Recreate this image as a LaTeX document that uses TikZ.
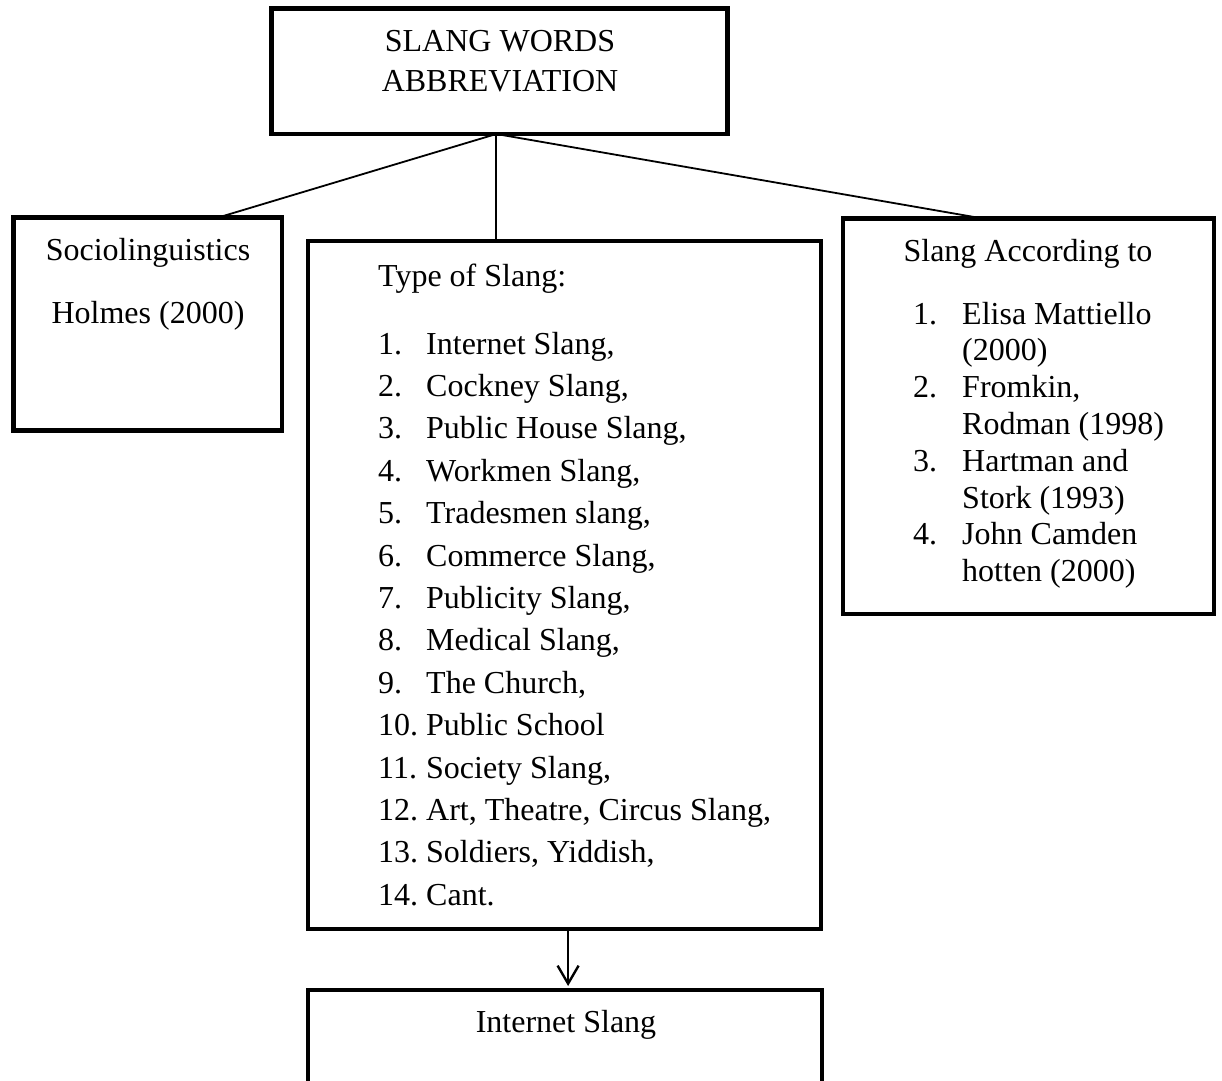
\documentclass[tikz,border=0pt]{standalone}
\usepackage{fontspec}
\setmainfont{Liberation Serif}
\usetikzlibrary{arrows.meta,calc}
\begin{document}
\begin{tikzpicture}[x=1pt,y=-1pt,
  box/.style={draw,line width=4.8pt,inner sep=0pt,outer sep=0pt,anchor=north west},
  conn/.style={line width=1.8pt},
  txt/.style={inner sep=0pt,font=\fontsize{32}{40}\selectfont},
  lbl/.style={txt,anchor=base west},
  ctr/.style={txt,anchor=base}]
\clip (0,0) rectangle (1222,1080);
\fill[white] (0,0) rectangle (1222,1080);
% boxes
\node[box,minimum width=456pt,minimum height=125.5pt] (top) at (271.5,8.5) {};
\node[box,minimum width=268.5pt,minimum height=212.5pt] (left) at (13.5,217.7) {};
\node[box,minimum width=513pt,minimum height=688pt] (mid) at (308,241) {};
\node[box,minimum width=371pt,minimum height=395.3pt] (right) at (843,218.7) {};
\node[box,minimum width=514pt,minimum height=120pt] (bot) at (308,990) {};
% texts
\node[ctr] (t1) at (500,51) {SLANG WORDS};
\node[ctr] (t2) at (500,91) {ABBREVIATION};
\node[ctr] (l1) at (148,260) {Sociolinguistics};
\node[ctr] (l2) at (148,323) {Holmes (2000)};
\node[lbl] (m0) at (378,286) {Type of Slang:};
\foreach [count=\i] \t in {{Internet Slang,},{Cockney Slang,},{Public House Slang,},{Workmen Slang,},{Tradesmen slang,},{Commerce Slang,},{Publicity Slang,},{Medical Slang,},{The Church,},{Public School},{Society Slang,},{Art, Theatre, Circus Slang,},{Soldiers, Yiddish,},{Cant.}}{
  \node[lbl] (mn\i) at (378,{354+42.4*(\i-1)}) {\i.};
  \node[lbl] (mt\i) at (426,{354+42.4*(\i-1)}) {\t};
}
\node[ctr] (r0) at (1028,261) {Slang According to};
\foreach [count=\i] \n/\t in {1./{Elisa Mattiello},/{(2000)},2./{Fromkin,},/{Rodman (1998)},3./{Hartman and},/{Stork (1993)},4./{John Camden},/{hotten (2000)}}{
  \node[lbl] (rn\i) at (913,{324+36.8*(\i-1)}) {\n};
  \node[lbl] (rt\i) at (962,{324+36.8*(\i-1)}) {\t};
}
\node[ctr] (b1) at (566,1032) {Internet Slang};
% connectors
\coordinate (hub) at ($(top.south west)!0.493!(top.south east)$);
\draw[conn] (hub) -- ($(left.north west)!0.76!(left.north east)$);
\draw[conn] (hub) -- (hub |- mid.north);
\draw[conn] (hub) -- ($(right.north west)!0.38!(right.north east)$);
\coordinate (ar) at ($(mid.south west)!0.507!(mid.south east)$);
\draw[line width=2.4pt,shorten >=4pt,-{Straight Barb[length=18pt,width=21pt,line width=2.4pt]}] (ar) -- (ar |- bot.north);
\end{tikzpicture}
\end{document}
